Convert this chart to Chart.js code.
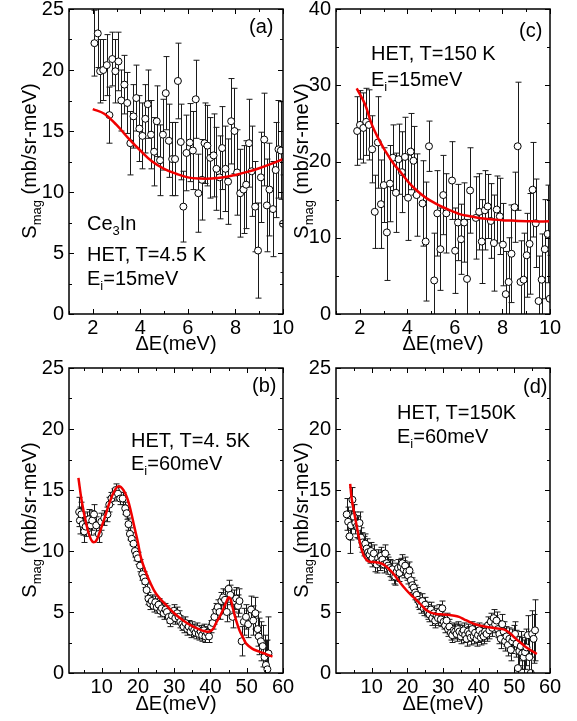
<!DOCTYPE html>
<html><head><meta charset="utf-8">
<script src="https://cdn.jsdelivr.net/npm/chart.js@4.4.1/dist/chart.umd.min.js"></script>
<style>
html,body{margin:0;padding:0;background:#fff;}
body{width:577px;height:721px;position:relative;overflow:hidden;font-family:'Liberation Sans',Arial,sans-serif;color:#000;}
canvas{position:absolute;}
.t{position:absolute;font-size:20px;line-height:24px;white-space:nowrap;}
.t sub,.yt sub{font-size:13px;vertical-align:-5px;line-height:0;}
.yt{position:absolute;font-size:20px;line-height:24px;white-space:nowrap;transform:translate(-50%,-50%) rotate(-90deg);}
</style></head>
<body>
<canvas id="ca" width="300" height="360" style="left:0;top:0"></canvas>
<canvas id="cc" width="287" height="360" style="left:290px;top:0"></canvas>
<canvas id="cb" width="300" height="361" style="left:0;top:360px"></canvas>
<canvas id="cd" width="287" height="361" style="left:290px;top:360px"></canvas>

<div class="yt" style="left:29px;top:161px">S<sub>mag</sub> (mb/sr-meV)</div>
<div class="yt" style="left:301px;top:161px">S<sub>mag</sub> (mb/sr-meV)</div>
<div class="yt" style="left:29px;top:520px">S<sub>mag</sub> (mb/sr-meV)</div>
<div class="yt" style="left:301px;top:520px">S<sub>mag</sub> (mb/sr-meV)</div>

<div class="t" style="left:249px;top:14px">(a)</div>
<div class="t" style="left:87px;top:211px">Ce<sub>3</sub>In</div>
<div class="t" style="left:87px;top:242px">HET, T=4.5 K</div>
<div class="t" style="left:87px;top:266px">E<sub>i</sub>=15meV</div>

<div class="t" style="left:519px;top:18px">(c)</div>
<div class="t" style="left:371px;top:41px">HET, T=150 K</div>
<div class="t" style="left:371px;top:67px">E<sub>i</sub>=15meV</div>

<div class="t" style="left:252px;top:373px">(b)</div>
<div class="t" style="left:131px;top:428px">HET, T=4. 5K</div>
<div class="t" style="left:131px;top:451px">E<sub>i</sub>=60meV</div>

<div class="t" style="left:523px;top:374px">(d)</div>
<div class="t" style="left:397px;top:400px">HET, T=150K</div>
<div class="t" style="left:397px;top:424px">E<sub>i</sub>=60meV</div>

<script>
// ---------- Panel (a): T=4.5 K, Ei=15 meV ----------
const aX = [2.07,2.21,2.31,2.44,2.59,2.70,2.82,2.95,3.08,3.20,3.33,3.45,3.58,3.71,3.83,3.96,4.09,4.21,4.31,4.45,4.58,4.69,4.83,4.95,5.07,5.20,5.34,5.46,5.58,5.70,5.81,5.94,6.08,6.21,6.33,6.44,6.59,6.70,6.82,6.94,7.08,7.20,7.33,7.44,7.58,7.69,7.82,7.96,8.07,8.20,8.34,8.45,8.57,8.68,8.83,8.95,9.07,9.21,9.32,9.43,9.58,9.69,9.81,9.91,10.0];
const aY = [22.2,23.0,19.9,20.0,20.4,16.3,20.9,19.9,20.7,17.5,18.8,17.3,14.0,16.2,17.7,15.2,14.6,16.0,17.2,14.7,13.3,15.8,12.6,14.7,18.1,14.2,12.7,12.7,19.1,14.1,8.8,13.2,14.05,13.4,17.6,9.9,11.0,14.0,13.8,12.8,13.0,11.9,11.2,13.6,11.9,10.85,15.8,15.0,11.6,9.9,10.2,10.6,14.0,11.7,8.8,5.2,11.2,14.3,8.9,10.2,8.6,11.8,13.5,13.4,7.4];
const aErr = [2.7,2.8,2.6,2.5,2.5,2.3,2.2,2.6,2.4,2.5,2.4,2.5,2.6,2.6,2.7,2.7,2.7,2.8,2.8,2.8,2.8,2.9,2.9,2.9,3.0,3.0,3.0,3.0,3.1,3.1,2.9,3.1,3.2,3.2,3.2,3.2,3.3,3.3,3.3,3.3,3.4,3.4,3.4,3.4,3.5,3.5,3.5,3.5,3.5,3.6,3.6,3.6,3.6,3.7,3.7,3.9,3.7,3.8,3.8,3.8,3.9,3.9,4.0,4.0,4.0];
const aFitX = [2,2.5,3,3.5,4,4.5,5,5.5,6,6.5,7,7.5,8,8.5,9,9.5,10];
const aFitY = [16.8,16.4,15.5,14.4,13.4,12.5,11.9,11.5,11.2,11.1,11.1,11.2,11.4,11.65,11.95,12.3,12.7];

// ---------- Panel (c): T=150 K, Ei=15 meV ----------
const cX = [1.89,2.01,2.15,2.27,2.38,2.52,2.63,2.76,2.89,3.01,3.14,3.27,3.39,3.52,3.63,3.77,3.90,4.03,4.14,4.26,4.39,4.64,4.77,4.91,5.13,5.26,5.39,5.51,5.64,5.88,6.01,6.13,6.26,6.39,6.51,6.64,6.88,7.02,7.13,7.26,7.38,7.51,7.64,7.76,7.89,8.02,8.14,8.26,8.38,8.51,8.64,8.76,8.89,9.02,9.14,9.27,9.40,9.52,9.65,9.78,9.90,9.99];
const cY = [24.0,24.8,24.4,25.2,24.8,21.6,13.4,22.5,14.4,16.9,10.7,17.1,20.5,15.9,20.3,18.6,20.6,15.25,21.3,20.1,15.6,14.5,9.5,22.0,4.4,13.2,8.5,15.6,13.2,17.5,8.3,12.0,9.8,12.0,4.6,16.2,12.6,13.4,9.5,13.6,14.1,12.2,9.3,13.7,12.8,9.1,2.6,4.2,7.9,14.0,22.0,4.2,4.5,7.7,9.2,16.3,11.9,1.7,4.5,8.5,10.5,2.0];
const cErr = [4.5,4.5,4.6,4.4,4.6,4.4,4.8,6.0,5.8,4.9,6.3,5.0,4.3,5.2,4.6,5.3,5.2,5.6,5.0,4.5,5.4,5.6,7.8,3.3,6.2,5.6,5.4,5.2,5.2,5.1,5.6,5.0,4.6,5.2,7.8,5.6,5.4,5.0,5.5,5.2,4.2,4.9,6.3,4.4,5.0,5.4,5.6,5.8,6.4,4.6,8.4,5.4,6.1,5.5,6.6,6.2,5.8,5.9,6.0,6.5,6.4,5.7];
const cFitX = [1.87,2.22,2.5,2.8,3.07,3.4,3.77,4.1,4.47,4.8,5.18,5.5,5.88,6.2,6.58,7.0,7.29,7.6,7.99,8.4,8.69,9.3,9.96];
const cFitY = [29.6,27.5,24.9,22.9,21.4,19.8,18.4,17.1,16.0,15.2,14.5,14.0,13.5,13.1,12.85,12.6,12.5,12.4,12.3,12.25,12.2,12.15,12.15];

// ---------- Panel (b): T=4.5 K, Ei=60 meV ----------
const bX = [3.8,4.0,4.4,4.8,5.2,5.6,6.1,6.5,7.0,7.4,7.9,8.5,9.2,9.9,10.7,11.6,12.1,12.7,13.3,13.9,14.5,15.1,15.8,16.5,16.9,17.4,17.8,18.3,18.8,19.2,19.6,20.0,20.6,21.2,21.6,22.0,22.4,22.9,23.4,23.8,24.3,24.8,25.2,25.7,26.2,26.6,27.1,27.6,28.0,28.5,28.9,29.4,29.9,30.3,30.8,31.2,31.7,32.2,32.6,33.1,33.6,34.0,34.5,35.0,35.5,35.9,36.4,36.8,37.3,37.7,38.2,38.6,39.1,39.6,40.2,40.6,41.1,41.6,42.0,42.5,43.0,43.5,44.0,44.5,45.0,45.5,46.1,46.6,47.1,47.6,48.0,48.6,49.2,49.8,50.4,51.2,51.8,52.4,53.0,53.3,53.9,54.4,54.9,55.3,55.7,56.0];
const bY = [13.2,12.5,13.0,12.2,11.6,12.0,12.4,12.6,12.1,12.5,13.0,12.1,11.4,12.4,12.7,13.0,13.8,14.3,14.6,15.0,14.7,14.3,14.3,13.5,13.1,12.2,11.4,11.0,10.6,10.0,9.7,9.4,8.8,8.1,7.8,7.5,6.8,6.1,5.7,5.9,5.5,5.8,5.4,5.6,5.1,5.3,4.9,5.2,5.0,4.6,4.3,4.7,5.1,4.5,4.9,4.6,4.2,4.0,3.8,4.1,3.6,3.8,3.4,3.7,3.5,3.3,3.6,3.2,3.4,3.1,3.5,3.0,3.3,3.0,3.8,4.1,4.6,5.1,5.4,5.0,5.9,6.2,6.0,5.0,6.9,6.4,4.6,5.9,6.1,5.5,5.9,2.6,4.2,4.6,4.0,5.2,4.3,4.9,3.6,3.0,2.6,2.2,1.3,0.66,0.3,1.6];
const bErr = [1.2,1.1,1.0,0.9,0.9,0.8,0.8,0.8,0.8,0.8,0.8,0.7,0.7,0.7,0.6,0.6,0.6,0.5,0.5,0.5,0.5,0.5,0.5,0.5,0.5,0.5,0.5,0.5,0.5,0.5,0.5,0.5,0.5,0.5,0.5,0.5,0.5,0.5,0.5,0.5,0.5,0.5,0.5,0.5,0.5,0.5,0.5,0.5,0.5,0.5,0.5,0.5,0.5,0.5,0.5,0.5,0.5,0.5,0.5,0.5,0.5,0.5,0.5,0.5,0.5,0.5,0.5,0.5,0.5,0.5,0.5,0.5,0.5,0.5,0.5,0.5,0.6,0.6,0.6,0.6,0.7,0.7,0.8,0.8,0.7,0.8,0.9,0.9,0.9,0.9,1.0,1.2,1.1,1.0,1.1,1.1,1.2,1.3,1.4,1.5,1.6,1.7,1.8,2.0,2.4,3.0];
const bFitX = [3.6,4.5,5.7,6.6,7.5,8.4,9.4,10.7,12.1,13.5,14.7,16.0,17.2,18.1,19.0,20.0,20.8,22.0,23.1,25.0,27.7,30.0,32.3,34.6,36.9,38.5,39.7,40.7,41.5,42.7,43.8,44.5,45.0,45.6,46.1,47.0,48.0,49.0,49.8,51.5,53.5,55.3,57.1];
const bFitY = [16.0,14.1,12.3,11.3,10.76,10.8,11.5,12.6,13.9,14.9,15.3,15.0,14.2,13.2,12.0,10.7,9.5,8.4,7.6,6.5,5.6,4.9,4.35,3.9,3.58,3.42,3.39,3.6,4.07,4.7,5.43,5.9,6.2,6.0,5.4,4.4,3.5,2.9,2.43,2.0,1.75,1.55,1.34];

// ---------- Panel (d): T=150 K, Ei=60 meV ----------
const dX = [3.0,3.4,3.8,4.2,4.6,5.0,5.4,5.8,6.2,6.6,7.0,7.4,7.8,8.2,8.6,9.0,9.4,9.8,10.2,10.6,11.0,11.4,11.8,12.2,12.6,13.0,13.4,13.8,14.2,14.6,15.0,15.4,15.8,16.2,16.6,17.0,17.4,17.8,18.2,18.6,19.0,19.4,19.8,20.2,20.6,21.0,21.4,21.8,22.2,22.6,23.0,23.4,23.8,24.2,24.6,25.0,25.4,25.8,26.2,26.6,27.0,27.4,27.8,28.2,28.6,29.0,29.4,29.8,30.2,30.6,31.0,31.4,31.8,32.2,32.6,33.0,33.4,33.8,34.2,34.6,35.0,35.4,35.8,36.2,36.6,37.0,37.4,37.8,38.2,38.6,39.0,39.4,39.8,40.2,40.6,41.0,41.4,41.8,42.2,42.6,43.0,43.4,43.8,44.2,44.6,45.0,45.4,45.8,46.2,46.6,47.0,47.4,47.8,48.2,48.6,49.0,49.4,49.8,50.2,50.6,51.0,51.4,51.8,52.2,52.6,53.0,53.4,53.8,54.2,54.6,55.0,55.4,55.8];
const dY = [13.0,12.4,11.2,12.1,14.2,12.8,12.3,12.0,11.9,12.3,11.1,10.7,10.4,10.6,10.2,9.9,9.7,10.0,9.4,9.8,9.0,8.9,9.4,9.1,9.6,9.3,8.9,9.8,9.0,8.8,8.6,8.3,8.5,8.0,7.9,8.3,8.6,8.2,8.7,9.0,8.5,8.8,8.3,8.0,8.4,7.6,7.2,7.0,6.6,6.4,6.0,5.8,5.5,5.9,5.3,5.6,5.2,5.0,4.8,5.2,4.5,4.9,4.3,4.7,4.5,5.0,4.4,5.3,4.2,3.9,4.3,3.6,3.8,3.3,3.1,3.5,3.4,3.2,3.6,3.4,3.0,3.3,3.5,3.1,2.8,3.4,3.2,2.9,3.6,3.0,3.3,2.8,3.1,3.5,2.9,3.2,3.0,3.4,3.2,3.9,3.5,4.2,3.7,4.5,4.0,4.3,3.6,3.2,2.8,4.0,3.4,2.6,3.0,2.3,2.8,1.9,2.6,2.9,3.2,2.4,0.4,1.8,2.2,1.6,1.3,1.7,2.1,3.1,1.3,0.0,3.2,2.8,3.5];
const dErr = [1.3,1.2,1.4,1.2,1.0,1.0,0.9,0.9,0.9,0.9,0.8,0.8,0.8,0.8,0.8,0.7,0.7,0.7,0.7,0.7,0.7,0.7,0.7,0.7,0.7,0.7,0.7,0.7,0.7,0.7,0.7,0.7,0.7,0.7,0.7,0.7,0.7,0.7,0.7,0.7,0.7,0.7,0.7,0.7,0.7,0.6,0.6,0.6,0.6,0.6,0.6,0.6,0.6,0.6,0.6,0.6,0.6,0.6,0.6,0.6,0.6,0.6,0.6,0.6,0.6,0.6,0.6,0.6,0.6,0.6,0.6,0.6,0.6,0.6,0.6,0.6,0.6,0.6,0.6,0.6,0.6,0.6,0.6,0.6,0.6,0.6,0.6,0.6,0.6,0.6,0.6,0.6,0.6,0.6,0.6,0.6,0.6,0.6,0.6,0.7,0.7,0.7,0.7,0.7,0.7,0.7,0.7,0.8,0.8,0.8,0.8,0.8,0.8,0.9,0.9,0.9,1.0,1.0,1.0,1.1,1.1,1.2,1.2,1.3,1.4,1.4,1.5,1.6,1.7,1.8,1.9,2.0,2.5];
const dFitX = [3.97,4.44,5.2,5.83,6.5,7.2,8.0,9.1,10.5,11.9,13.0,14.2,15.3,16.5,18.0,19.7,21.0,22.5,24.0,25.3,26.6,28.1,30.0,31.8,33.2,34.5,35.9,37.3,39.0,41.0,42.8,44.7,46.0,47.5,49.0,50.3,51.7,53.1,54.7,56.3];
const dFitY = [15.5,14.2,13.0,12.0,11.0,10.1,9.5,9.15,9.1,9.05,8.95,8.7,8.4,8.0,7.4,6.8,6.4,6.0,5.55,5.16,4.95,4.84,4.8,4.75,4.7,4.6,4.4,4.2,4.0,3.85,3.75,3.66,3.62,3.52,3.2,2.84,2.5,2.16,1.85,1.56];

// ---------- Tick values ----------
const xTicks15 = [2,4,6,8,10];
const xMinor15 = [1,3,5,7,9];
const xTicks60 = [10,20,30,40,50,60];
const xMinor60 = [5,15,25,35,45,55];
const yTicks25 = [0,5,10,15,20,25];
const yMinor25 = [2.5,7.5,12.5,17.5,22.5];
const yTicks40 = [0,10,20,30,40];
const yMinor40 = [5,15,25,35];

Chart.defaults.font.family = "'Liberation Sans', Arial, sans-serif";
Chart.defaults.font.size = 20;
Chart.defaults.color = '#000';

const errorBars = {
  id: 'errorBars',
  beforeDatasetsDraw(chart) {
    const ds = chart.data.datasets[1];
    const xs = chart.scales.x, ys = chart.scales.y, ctx = chart.ctx, a = chart.chartArea;
    ctx.save();
    ctx.beginPath(); ctx.rect(a.left, a.top, a.right - a.left, a.bottom - a.top); ctx.clip();
    ctx.strokeStyle = '#1a1a1a'; ctx.lineWidth = 1;
    ds.data.forEach(p => {
      const X = Math.round(xs.getPixelForValue(p.x)) + 0.5;
      const y1 = ys.getPixelForValue(p.y - p.e), y2 = ys.getPixelForValue(p.y + p.e);
      ctx.beginPath();
      ctx.moveTo(X, y1); ctx.lineTo(X, y2);
      ctx.moveTo(X - 3, y1); ctx.lineTo(X + 3, y1);
      ctx.moveTo(X - 3, y2); ctx.lineTo(X + 3, y2);
      ctx.stroke();
    });
    ctx.restore();
  }
};

const frame = {
  id: 'frame',
  afterDraw(chart, args, opts) {
    const ctx = chart.ctx, a = chart.chartArea, xs = chart.scales.x, ys = chart.scales.y;
    ctx.save();
    ctx.strokeStyle = '#000';
    ctx.lineWidth = 1;
    const tx = (vals, len) => vals.forEach(v => {
      const X = Math.round(xs.getPixelForValue(v)) + 0.5;
      ctx.beginPath();
      ctx.moveTo(X, a.bottom); ctx.lineTo(X, a.bottom - len);
      ctx.moveTo(X, a.top); ctx.lineTo(X, a.top + len);
      ctx.stroke();
    });
    const ty = (vals, len) => vals.forEach(v => {
      const Y = Math.round(ys.getPixelForValue(v)) + 0.5;
      ctx.beginPath();
      ctx.moveTo(a.left, Y); ctx.lineTo(a.left + len, Y);
      ctx.moveTo(a.right, Y); ctx.lineTo(a.right - len, Y);
      ctx.stroke();
    });
    tx(opts.xMajor, 5); tx(opts.xMinor, 3);
    ty(opts.yMajor, 5); ty(opts.yMinor, 3);
    ctx.lineWidth = 1.5;
    ctx.strokeRect(a.left, a.top, a.right - a.left, a.bottom - a.top);
    ctx.restore();
  }
};

function panel(id, c) {
  new Chart(document.getElementById(id), {
    type: 'scatter',
    data: {
      datasets: [
        { type: 'line', data: c.fx.map((x, i) => ({ x, y: c.fy[i] })), borderColor: '#f00000', borderWidth: 2.5,
          pointRadius: 0, fill: false, tension: 0.4, order: 0 },
        { data: c.x.map((x, i) => ({ x, y: c.y[i], e: c.e[i] })), pointRadius: 3.5, pointBorderWidth: 1,
          pointBackgroundColor: '#fff', pointBorderColor: '#000', showLine: false, order: 1 }
      ]
    },
    options: {
      responsive: false, animation: false, devicePixelRatio: 1,
      layout: { padding: c.pad },
      plugins: { legend: { display: false }, tooltip: { enabled: false },
        frame: { xMajor: c.xMajor, xMinor: c.xMinor, yMajor: c.yMajor, yMinor: c.yMinor } },
      scales: {
        x: { type: 'linear', min: c.xMin, max: c.xMax, grid: { display: false, drawTicks: false, tickLength: 0 }, border: { display: false },
          ticks: { padding: 2, autoSkip: false, maxRotation: 0 },
          title: { display: true, text: 'ΔE(meV)', padding: { top: 0, bottom: c.tpb } },
          afterBuildTicks: s => { s.ticks = c.xMajor.map(v => ({ value: v })); },
          afterFit: s => { s.height = c.xh; s.paddingLeft = 0; s.paddingRight = 0; } },
        y: { type: 'linear', min: c.yMin, max: c.yMax, grid: { display: false, drawTicks: false, tickLength: 0 }, border: { display: false },
          ticks: { padding: 5, autoSkip: false },
          afterBuildTicks: s => { s.ticks = c.yMajor.map(v => ({ value: v })); },
          afterFit: s => { s.width = c.yw; s.paddingTop = 0; s.paddingBottom = 0; } }
      }
    },
    plugins: [errorBars, frame]
  });
}

panel('ca', { x: aX, y: aY, e: aErr, fx: aFitX, fy: aFitY, xMin: 1, xMax: 10, yMin: 0, yMax: 25,
  xMajor: xTicks15, xMinor: xMinor15, yMajor: yTicks25, yMinor: yMinor25,
  pad: { top: 9, right: 17, bottom: 0, left: 0 }, yw: 69, xh: 46, tpb: 4 });
panel('cc', { x: cX, y: cY, e: cErr, fx: cFitX, fy: cFitY, xMin: 1, xMax: 10, yMin: 0, yMax: 40,
  xMajor: xTicks15, xMinor: xMinor15, yMajor: yTicks40, yMinor: yMinor40,
  pad: { top: 9, right: 27, bottom: 0, left: 0 }, yw: 46, xh: 46, tpb: 4 });
panel('cb', { x: bX, y: bY, e: bErr, fx: bFitX, fy: bFitY, xMin: 1, xMax: 60, yMin: 0, yMax: 25,
  xMajor: xTicks60, xMinor: xMinor60, yMajor: yTicks25, yMinor: yMinor25,
  pad: { top: 8, right: 17, bottom: 0, left: 0 }, yw: 69, xh: 48, tpb: 5 });
panel('cd', { x: dX, y: dY, e: dErr, fx: dFitX, fy: dFitY, xMin: 0, xMax: 60, yMin: 0, yMax: 25,
  xMajor: xTicks60, xMinor: xMinor60, yMajor: yTicks25, yMinor: yMinor25,
  pad: { top: 8, right: 27, bottom: 0, left: 0 }, yw: 46, xh: 48, tpb: 5 });
</script>
</body></html>
